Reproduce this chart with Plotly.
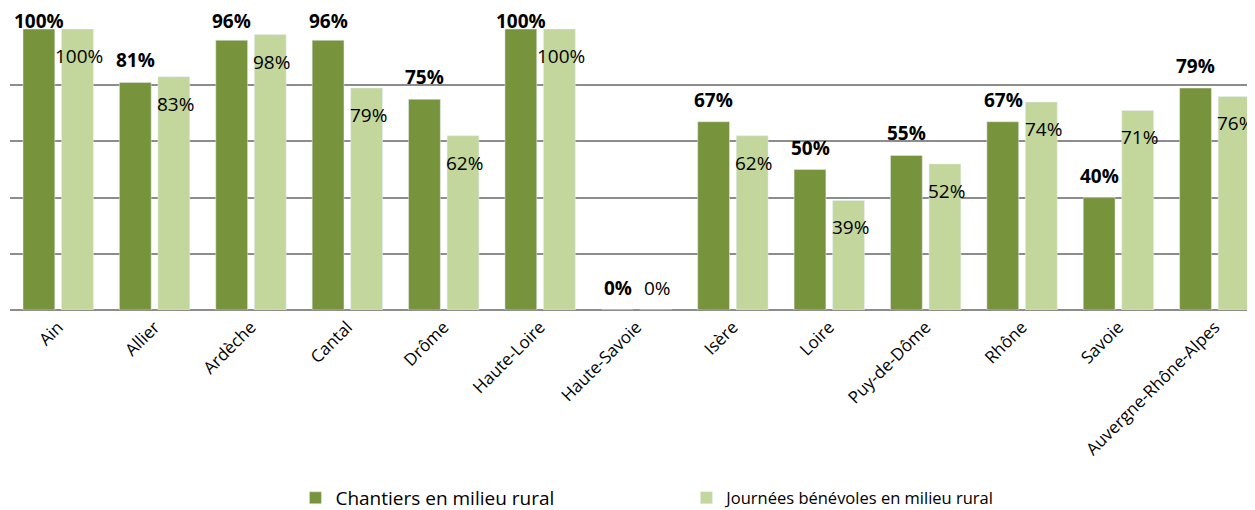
import plotly.graph_objects as go

categories = ["Ain", "Allier", "Ardèche", "Cantal", "Drôme", "Haute-Loire", "Haute-Savoie",
              "Isère", "Loire", "Puy-de-Dôme", "Rhône", "Savoie", "Auvergne-Rhône-Alpes"]
chantiers = [100, 81, 96, 96, 75, 100, 0, 67, 50, 55, 67, 40, 79]
journees = [100, 83, 98, 79, 62, 100, 0, 62, 39, 52, 74, 71, 76]
series_names = ["Chantiers en milieu rural", "Journées bénévoles en milieu rural"]

DARK = "#77933c"
LIGHT = "#c3d69b"
FONT = "Open Sans"

fig = go.Figure()
fig.add_trace(go.Bar(x=categories, y=chantiers, name=series_names[0], marker_color=DARK,
                     width=0.33, offset=-0.365, legend="legend"))
fig.add_trace(go.Bar(x=categories, y=journees, name=series_names[1], marker_color=LIGHT,
                     width=0.33, offset=0.035, legend="legend2"))

annotations = []
for c, v in zip(categories, chantiers):
    annotations.append(dict(x=c, y=min(v, 95), text=f"<b>{v}%</b>", showarrow=False,
                            xshift=-19, yshift=22, font=dict(family=FONT, size=19, color="#000")))
for c, v in zip(categories, journees):
    ys = -27 if v > 10 else 22
    annotations.append(dict(x=c, y=v, text=f"{v}%", showarrow=False,
                            xshift=21, yshift=ys, font=dict(family=FONT, size=19, color="#000")))

fig.update_layout(
    width=1255, height=502,
    margin=dict(l=2, r=0, t=21, b=200, autoexpand=False),
    plot_bgcolor="white", paper_bgcolor="white",
    barmode="group",
    annotations=annotations,
    xaxis=dict(range=[-0.5, 12.5], tickangle=-45, showgrid=False, showline=False,
               ticks="", automargin=False, ticklabelstandoff=3,
               tickfont=dict(family=FONT, size=17, color="#000")),
    yaxis=dict(range=[0, 100], dtick=20, showticklabels=False, showgrid=True, automargin=False,
               gridcolor="#8c8c8c", gridwidth=1.5, zeroline=True, zerolinecolor="#8c8c8c",
               zerolinewidth=2, ticks=""),
    legend=dict(orientation="h", x=0.2278, xanchor="left", yref="container", y=0.024,
                yanchor="middle", font=dict(family=FONT, size=19, color="#000"),
                itemwidth=30),
    legend2=dict(orientation="h", x=0.5398, xanchor="left", yref="container", y=0.024,
                 yanchor="middle", font=dict(family=FONT, size=16.5, color="#000"),
                 itemwidth=30),
    showlegend=True,
)
fig.write_html("out.html")
